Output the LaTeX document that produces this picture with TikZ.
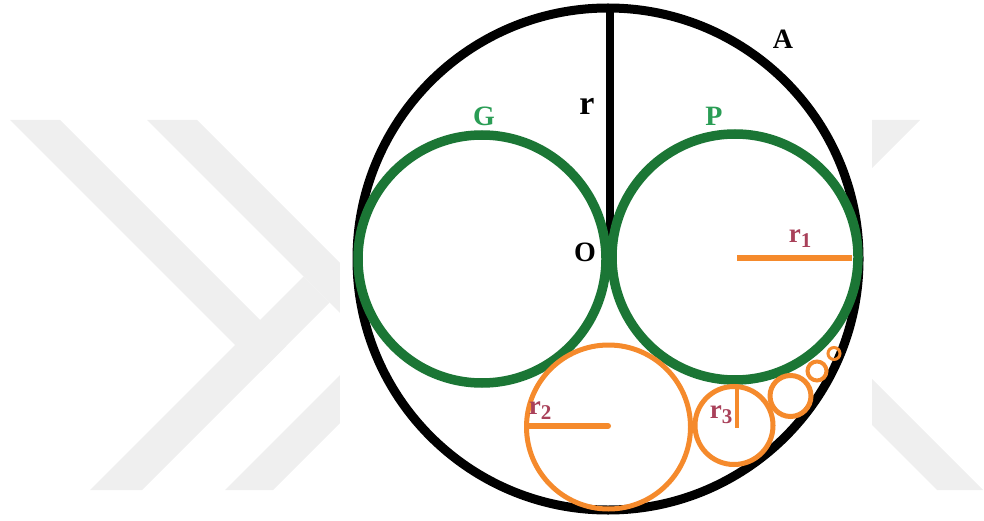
\documentclass[tikz,border=0pt]{standalone}
\usepackage{fontspec}
\setmainfont{Liberation Serif}
\definecolor{wm}{HTML}{EFEFEF}
\definecolor{dkgreen}{HTML}{1B7635}
\definecolor{lbgreen}{HTML}{2A9D55}
\definecolor{orng}{HTML}{F58A2C}
\definecolor{rlab}{HTML}{A9415A}
\newcommand{\sublab}[1]{r\raisebox{-0.4ex}{\fontsize{21}{21}\selectfont #1}}
\begin{document}
\begin{tikzpicture}[x=1pt,y=-1pt,
  bigc/.style={draw=black,line width=9pt},
  greenc/.style={draw=dkgreen,line width=9.5pt},
  orc/.style={draw=orng,line width=5pt},
  orline/.style={draw=orng,line width=6pt},
  blab/.style={font=\fontsize{28}{28}\selectfont\bfseries,text=black,inner sep=0pt},
  glab/.style={font=\fontsize{28}{28}\selectfont\bfseries,text=lbgreen,inner sep=0pt},
  rlabel/.style={font=\fontsize{27}{27}\selectfont\bfseries,text=rlab,inner sep=0pt}]
\useasboundingbox (0,0) rectangle (984,521);
% watermark
\fill[wm] (10,120) -- (60,120) -- (286,346) -- (261,371) -- cycle;
\fill[wm] (90,490) -- (142,490) -- (329.5,302.5) -- (303.5,276.5) -- cycle;
\fill[wm] (147,120) -- (197,120) -- (420,343) -- (395,368) -- cycle;
\fill[wm] (225,490) -- (273,490) -- (400,363) -- (400,315) -- cycle;
\fill[wm] (860,120) -- (920,120) -- (860,180) -- cycle;
\fill[wm] (983,490) -- (937,490) -- (850,403) -- (850,357) -- cycle;
\fill[white] (340,0) rectangle (872,521);
% centres
\coordinate (C) at (608,259);
\coordinate (Ctop) at (610,5);
\coordinate (Oc) at (610,253);
\coordinate (Gc) at (482,259);
\coordinate (Pc) at (735,257);
\coordinate (R2c) at (608.5,427);
\coordinate (R3c) at (734,425.5);
\coordinate (C4) at (790.5,396);
\coordinate (C5) at (817,371);
\coordinate (C6) at (834,353.5);
% big circle and radius
\draw[bigc] (C) circle[radius=251];
\draw[black,line width=8pt] (Ctop) -- (Oc);
% green circles
\draw[greenc] (Gc) circle[radius=124];
\draw[greenc] (Pc) circle[radius=123];
% orange circles
\draw[orc] (R2c) circle[radius=82];
\draw[orc] (R3c) circle[radius=39];
\draw[orc] (C4) circle[radius=20.5];
\draw[orng,line width=4pt] (C5) circle[radius=9.5];
\draw[orng,line width=3pt] (C6) circle[radius=6];
% radius lines
\coordinate (r1a) at (737,258);
\coordinate (r1b) at (852,258);
\coordinate (r2a) at (527,426);
\coordinate (r2b) at (608,426);
\coordinate (r3a) at (737,385);
\coordinate (r3b) at (737,428);
\draw[orline] (r1a) -- (r1b);
\draw[orline,line cap=round] (r2a) -- (r2b);
\draw[orng,line width=4pt] (r3a) -- (r3b);
% labels
\node[blab] (lA) at (783,39) {A};
\node[blab,font=\fontsize{34}{34}\selectfont\bfseries] (lr) at (587,106) {r};
\node[glab] (lG) at (484,116) {G};
\node[glab] (lP) at (714,116) {P};
\node[blab] (lO) at (585,252) {O};
\node[rlabel] (lr1) at (800,239) {\sublab{1}};
\node[rlabel] (lr2) at (540,411) {\sublab{2}};
\node[rlabel] (lr3) at (721,415) {\sublab{3}};
\end{tikzpicture}
\end{document}
